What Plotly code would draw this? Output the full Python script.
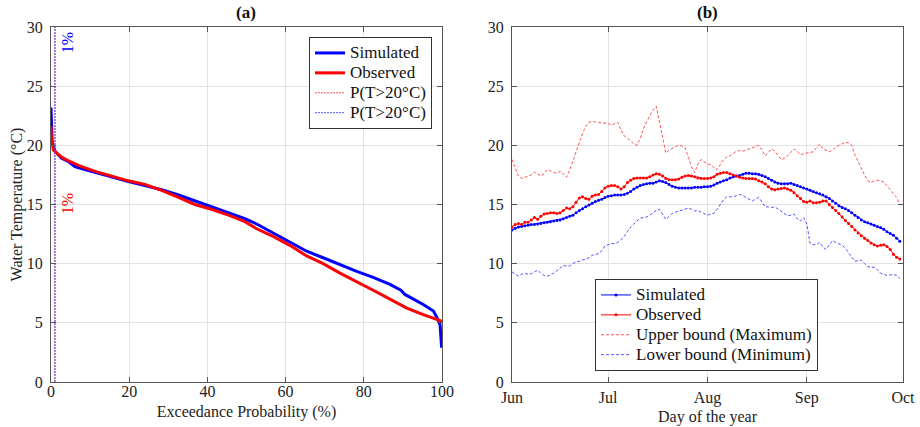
import plotly.graph_objects as go
import pandas as pd

# ---------------- Panel (a) data: exceedance curves ----------------
sim_prob = [0, 0.1, 0.3, 1, 2.7, 4.4, 6.1, 8.7, 12, 15.5, 19.8, 24, 28.3, 32.6, 36.8, 41, 45.4,
            49.6, 52.6, 56.8, 61.1, 65.4, 69.6, 73.9, 78.2, 82.4, 86.7, 89.5, 90.5, 95.2, 97.8,
            98.8, 99.5, 99.9]
sim_temp = [23.2, 20.6, 20.3, 19.5, 18.9, 18.65, 18.2, 17.95, 17.65, 17.3, 16.95, 16.6, 16.25,
            15.8, 15.3, 14.8, 14.3, 13.8, 13.35, 12.6, 11.85, 11.05, 10.5, 9.9, 9.35, 8.85, 8.25,
            7.75, 7.4, 6.55, 6.0, 5.4, 4.85, 2.9]
obs_prob = [0, 0.1, 0.6, 2.7, 4.4, 7, 11.3, 15.5, 19.8, 24, 28.3, 32.6, 36.8, 41, 45.4, 49.6,
            52.6, 56.8, 61.1, 65.4, 69.6, 73.9, 78.2, 82.4, 86.7, 91, 95.2, 99.5, 100]
obs_temp = [21.6, 20.6, 19.6, 19.0, 18.7, 18.3, 17.8, 17.4, 17.0, 16.7, 16.2, 15.6, 15.0, 14.6,
            14.1, 13.55, 12.95, 12.3, 11.55, 10.65, 10.0, 9.2, 8.5, 7.75, 7.0, 6.25, 5.7, 5.2, 5.0]
p_exceed_obs = 1
p_exceed_sim = 1

# ---------------- Panel (b) data: daily series Jun 1 - Sep 30 ----------------
sim_daily = [12.85, 13.0, 13.1, 13.15, 13.2, 13.25, 13.3, 13.3, 13.35, 13.4, 13.45, 13.5, 13.55,
             13.6, 13.65, 13.7, 13.8, 13.9, 14.0, 14.1, 14.3, 14.5, 14.65, 14.8, 14.95, 15.1,
             15.25, 15.35, 15.45, 15.6, 15.7, 15.75, 15.8, 15.8, 15.8, 15.85, 15.95, 16.1, 16.3,
             16.45, 16.6, 16.7, 16.75, 16.8, 16.8, 16.9, 17.0, 16.95, 16.85, 16.7, 16.55, 16.45,
             16.4, 16.4, 16.4, 16.4, 16.4, 16.45, 16.45, 16.45, 16.5, 16.5, 16.55, 16.65, 16.8,
             16.9, 17.0, 17.1, 17.25, 17.35, 17.4, 17.45, 17.55, 17.65, 17.65, 17.6, 17.6, 17.55,
             17.45, 17.35, 17.2, 17.05, 16.9, 16.8, 16.75, 16.75, 16.75, 16.8, 16.7, 16.6, 16.5,
             16.4, 16.3, 16.2, 16.1, 16.0, 15.9, 15.8, 15.65, 15.5, 15.3, 15.1, 14.9, 14.75,
             14.65, 14.5, 14.3, 14.1, 13.9, 13.7, 13.55, 13.45, 13.35, 13.25, 13.15, 13.05, 12.9,
             12.7, 12.55, 12.4, 12.15, 11.9]
obs_daily = [13.1, 13.3, 13.4, 13.3, 13.5, 13.5, 13.7, 13.9, 13.75, 14.0, 14.2, 14.25, 14.3,
             14.3, 14.25, 14.3, 14.5, 14.7, 14.65, 14.8, 15.2, 15.55, 15.65, 15.5, 15.45, 15.7,
             15.8, 15.85, 16.1, 16.4, 16.55, 16.6, 16.6, 16.5, 16.3, 16.5, 16.85, 17.05, 17.2,
             17.25, 17.25, 17.25, 17.25, 17.35, 17.5, 17.6, 17.55, 17.4, 17.2, 17.1, 17.1, 17.1,
             17.15, 17.3, 17.4, 17.45, 17.4, 17.35, 17.25, 17.2, 17.2, 17.2, 17.25, 17.35, 17.55,
             17.65, 17.7, 17.7, 17.6, 17.5, 17.4, 17.3, 17.25, 17.2, 17.2, 17.2, 17.15, 17.0,
             16.9, 16.75, 16.5, 16.3, 16.25, 16.3, 16.35, 16.4, 16.3, 16.2, 16.0, 15.75, 15.5,
             15.25, 15.2, 15.3, 15.15, 15.15, 15.2, 15.3, 15.3, 15.0, 14.75, 14.5, 14.25, 13.95,
             13.65, 13.4, 13.15, 12.85, 12.6, 12.35, 12.15, 11.95, 11.75, 11.6, 11.5, 11.55,
             11.6, 11.45, 11.2, 10.8, 10.55, 10.4]
upper_daily = [18.8, 18.1, 17.4, 17.2, 17.3, 17.4, 17.5, 17.75, 17.55, 17.4, 17.6, 17.95, 17.85,
               17.7, 17.65, 17.8, 17.6, 17.3, 17.9, 18.65, 19.5, 20.3, 21.0, 21.6, 21.95, 22.0,
               22.0, 21.95, 21.9, 21.9, 21.85, 21.7, 21.8, 21.95, 21.3, 20.8, 20.6, 20.4, 20.1,
               20.0, 20.6, 21.4, 22.0, 22.5, 23.0, 23.3, 22.0, 20.5, 19.35, 19.6, 19.75, 19.9,
               20.0, 19.95, 19.8, 19.0, 18.2, 17.7, 18.4, 18.8, 18.6, 18.4, 18.4, 18.1, 17.95,
               18.4, 18.8, 19.0, 19.1, 19.3, 19.5, 19.55, 19.5, 19.6, 19.7, 19.75, 19.9, 20.0,
               19.6, 19.1, 19.4, 19.7, 19.5, 19.1, 18.8, 18.9, 19.1, 19.4, 19.7, 19.5, 19.2, 19.3,
               19.35, 19.35, 19.45, 19.8, 20.1, 19.7, 19.55, 19.45, 19.6, 19.85, 20.0, 20.15,
               20.25, 20.2, 20.0, 19.2, 18.6, 18.0, 17.5, 17.0, 16.85, 17.0, 17.05, 17.0, 16.9,
               16.6, 16.2, 15.9, 15.6, 15.0]
lower_daily = [9.3, 9.1, 8.95, 9.1, 9.2, 9.1, 9.15, 9.3, 9.45, 9.2, 9.0, 8.95, 9.05, 9.2, 9.4,
               9.6, 9.85, 9.8, 9.8, 10.0, 10.15, 10.2, 10.3, 10.35, 10.5, 10.7, 10.75, 10.85,
               11.1, 11.5, 11.6, 11.7, 11.7, 11.8, 12.0, 12.3, 12.7, 13.1, 13.35, 13.6, 13.85,
               13.9, 13.95, 14.1, 14.3, 14.5, 14.6, 14.2, 13.75, 14.0, 14.25, 14.35, 14.45, 14.5,
               14.65, 14.7, 14.6, 14.45, 14.5, 14.35, 14.25, 14.1, 14.2, 14.25, 14.6, 15.0, 15.4,
               15.65, 15.65, 15.65, 15.75, 15.85, 15.75, 15.6, 15.45, 15.3, 15.45, 15.6, 15.2,
               14.8, 14.8, 14.75, 14.8, 14.6, 14.45, 14.25, 14.05, 14.1, 14.2, 13.8, 13.6, 13.9,
               13.35, 11.7, 11.6, 11.6, 11.8, 11.4, 11.2, 11.6, 11.95, 11.8, 11.7, 11.55, 11.3,
               10.9, 10.5, 10.2, 10.25, 10.3, 10.0, 9.75, 9.7, 9.7, 9.5, 9.2, 9.1, 9.0, 9.05,
               9.1, 9.0, 8.75]
dates = pd.date_range("2021-06-01", periods=len(sim_daily), freq="D")
month_ticks = ["2021-06-01", "2021-07-01", "2021-08-01", "2021-09-01", "2021-10-01"]
month_labels = ["Jun", "Jul", "Aug", "Sep", "Oct"]
y_ticks = [0, 5, 10, 15, 20, 25, 30]
x_ticks_a = [0, 20, 40, 60, 80, 100]

FONT = "Liberation Serif, Times New Roman, serif"
BLUE = "rgb(0,0,255)"
RED = "rgb(255,0,0)"
LEG_TXT = 17


def leg(name):
    return f'<span style="font-size:{LEG_TXT}px">{name}</span>'


fig = go.Figure()

# Panel (a)
fig.add_trace(go.Scatter(x=sim_prob, y=sim_temp, mode="lines", name=leg("Simulated"),
                         line=dict(color=BLUE, width=3), xaxis="x", yaxis="y", legend="legend"))
fig.add_trace(go.Scatter(x=obs_prob, y=obs_temp, mode="lines", name=leg("Observed"),
                         line=dict(color=RED, width=3), xaxis="x", yaxis="y", legend="legend"))
fig.add_trace(go.Scatter(x=[p_exceed_obs, p_exceed_obs], y=[0, 30], mode="lines",
                         name=leg("P(T>20°C)"),
                         line=dict(color="rgba(255,60,60,0.85)", width=1, dash="2px,1px"),
                         xaxis="x", yaxis="y", legend="legend"))
fig.add_trace(go.Scatter(x=[p_exceed_sim, p_exceed_sim], y=[0, 30], mode="lines",
                         name=leg("P(T>20°C)"),
                         line=dict(color="rgba(60,60,255,0.85)", width=1, dash="2px,1px"),
                         xaxis="x", yaxis="y", legend="legend"))

# Panel (b)
fig.add_trace(go.Scatter(x=dates, y=sim_daily, mode="lines+markers", name=leg("Simulated"),
                         line=dict(color=BLUE, width=1), marker=dict(color=BLUE, size=3),
                         xaxis="x2", yaxis="y2", legend="legend2"))
fig.add_trace(go.Scatter(x=dates, y=obs_daily, mode="lines+markers", name=leg("Observed"),
                         line=dict(color=RED, width=1), marker=dict(color=RED, size=3),
                         xaxis="x2", yaxis="y2", legend="legend2"))
fig.add_trace(go.Scatter(x=dates, y=upper_daily, mode="lines", name=leg("Upper bound (Maximum)"),
                         line=dict(color="rgba(255,40,40,0.8)", width=1, dash="3px,2px"),
                         xaxis="x2", yaxis="y2", legend="legend2"))
fig.add_trace(go.Scatter(x=dates, y=lower_daily, mode="lines", name=leg("Lower bound (Minimum)"),
                         line=dict(color="rgba(40,40,255,0.8)", width=1, dash="3px,2px"),
                         xaxis="x2", yaxis="y2", legend="legend2"))

axis_common = dict(showline=True, linecolor="#555555", linewidth=1, mirror="ticks",
                   ticks="inside", ticklen=5, tickcolor="#555555", automargin=False,
                   showgrid=True, gridcolor="#e3e3e3", gridwidth=1, zeroline=False,
                   tickfont=dict(family=FONT, size=16, color="#222222"))

W, H = 920, 427
ybot, ytop = 1 - 382 / H, 1 - 27 / H

fig.update_layout(
    template="none",
    width=W, height=H, margin=dict(l=0, r=0, t=0, b=0),
    paper_bgcolor="white", plot_bgcolor="white",
    font=dict(family=FONT, size=16, color="#222222"),
    showlegend=True,
    xaxis=dict(domain=[51 / W, 442 / W], range=[0, 100], tickvals=x_ticks_a, ticklabelstandoff=-5,
               title=dict(text="Exceedance Probability (%)", font=dict(family=FONT, size=16), standoff=6),
               anchor="y", **axis_common),
    yaxis=dict(domain=[ybot, ytop], range=[0, 30], tickvals=y_ticks, ticklabelstandoff=4,
               title=dict(text="Water Temperature (°C)", font=dict(family=FONT, size=16), standoff=0),
               anchor="x", **axis_common),
    xaxis2=dict(domain=[512 / W, 903 / W], range=[month_ticks[0], month_ticks[-1]],
                tickvals=month_ticks, ticktext=month_labels, type="date", ticklabelstandoff=1,
                title=dict(text="Day of the year", font=dict(family=FONT, size=16), standoff=4),
                anchor="y2", **axis_common),
    yaxis2=dict(domain=[ybot, ytop], range=[0, 30], tickvals=y_ticks, ticklabelstandoff=4,
                anchor="x2", **axis_common),
    legend=dict(x=432 / W, xanchor="right", y=1 - 37 / H, yanchor="top",
                bgcolor="white", bordercolor="#333333", borderwidth=1,
                font=dict(family=FONT, size=13, color="#111111"), tracegroupgap=0),
    legend2=dict(x=595 / W, xanchor="left", y=1 - 371 / H, yanchor="bottom",
                 bgcolor="white", bordercolor="#333333", borderwidth=1,
                 font=dict(family=FONT, size=13, color="#111111"), tracegroupgap=0),
    annotations=[
        dict(text="<b>(a)</b>", x=(51 + 442) / 2 / W, y=1 - 12 / H, xref="paper", yref="paper",
             xanchor="center", yanchor="middle", showarrow=False,
             font=dict(family=FONT, size=17, color="#111111")),
        dict(text="<b>(b)</b>", x=(512 + 903) / 2 / W, y=1 - 12 / H, xref="paper", yref="paper",
             xanchor="center", yanchor="middle", showarrow=False,
             font=dict(family=FONT, size=17, color="#111111")),
        dict(text="1%", x=p_exceed_sim, y=28.7, xref="x", yref="y", showarrow=False,
             textangle=-90, xshift=12, font=dict(family=FONT, size=16, color=BLUE)),
        dict(text="1%", x=p_exceed_obs, y=15.1, xref="x", yref="y", showarrow=False,
             textangle=-90, xshift=12, font=dict(family=FONT, size=16, color=RED)),
    ],
)

fig.write_html("out.html")
